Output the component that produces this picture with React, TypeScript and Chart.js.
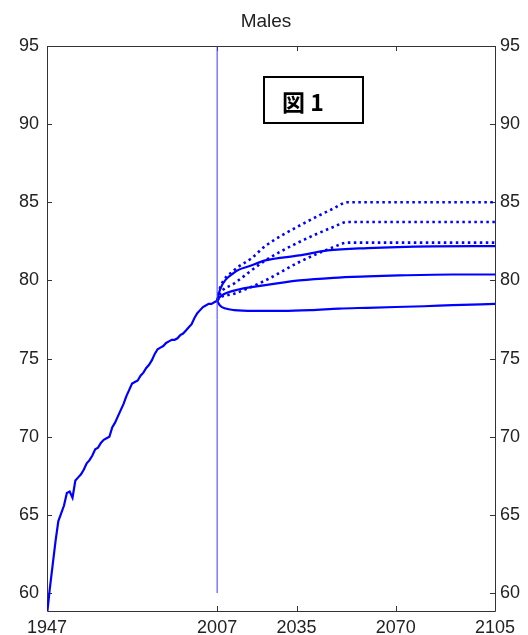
import React, { useEffect, useRef } from "react";
import { Chart, registerables } from "chart.js";
Chart.register(...registerables);

const histYears = [
  1947, 1948, 1949, 1950, 1951, 1952, 1953, 1954, 1955, 1956, 1957, 1958, 1959, 1960,
  1961, 1962, 1963, 1964, 1965, 1966, 1967, 1968, 1969, 1970, 1971, 1972, 1973, 1974,
  1975, 1976, 1977, 1978, 1979, 1980, 1981, 1982, 1983, 1984, 1985, 1986, 1987, 1988,
  1989, 1990, 1991, 1992, 1993, 1994, 1995, 1996, 1997, 1998, 1999, 2000, 2001, 2002,
  2003, 2004, 2005, 2006, 2007,
];
const histValues = [
  58.6, 60.3, 61.8, 63.3, 64.6, 65.1, 65.6, 66.4, 66.5, 66.1, 67.2, 67.4, 67.6, 67.9,
  68.3, 68.5, 68.8, 69.2, 69.3, 69.6, 69.8, 69.9, 70.0, 70.6, 70.9, 71.3, 71.7, 72.1,
  72.6, 73.0, 73.4, 73.5, 73.6, 73.9, 74.1, 74.4, 74.6, 74.9, 75.3, 75.6, 75.7, 75.8,
  76.0, 76.1, 76.2, 76.2, 76.3, 76.5, 76.6, 76.8, 77.0, 77.2, 77.6, 77.9, 78.1, 78.3,
  78.4, 78.5, 78.5, 78.6, 78.7,
];

const solidLowYears = [2007, 2008, 2010, 2013, 2020, 2030, 2040, 2050, 2060, 2070, 2080, 2090, 2105];
const solidLowValues = [78.7, 78.4, 78.2, 78.1, 78.05, 78.05, 78.1, 78.2, 78.25, 78.3, 78.35, 78.42, 78.5];
const solidMidYears = [2007, 2008, 2013, 2024, 2036, 2048, 2060, 2071, 2090, 2105];
const solidMidValues = [78.7, 78.95, 79.35, 79.7, 80.0, 80.17, 80.26, 80.32, 80.38, 80.38];
const solidHighYears = [2007, 2008, 2013, 2019, 2024, 2036, 2046, 2060, 2083, 2105];
const solidHighValues = [78.7, 79.4, 80.5, 80.95, 81.28, 81.6, 81.92, 82.07, 82.18, 82.2];

const dotTopYears = [2007, 2008, 2013, 2019, 2024, 2036, 2048, 2053, 2105];
const dotTopValues = [78.7, 79.5, 80.65, 81.4, 82.2, 83.5, 84.6, 85.0, 85.0];
const dotMidYears = [2007, 2008, 2013, 2024, 2036, 2048, 2053, 2105];
const dotMidValues = [78.7, 79.15, 79.8, 81.28, 82.46, 83.42, 83.74, 83.74];
const dotLowYears = [2007, 2008, 2013, 2024, 2036, 2048, 2053, 2105];
const dotLowValues = [78.7, 78.9, 79.15, 80.0, 81.18, 82.13, 82.42, 82.42];

const baseYearLineYears = [2007, 2007];
const baseYearLineValues = [60, 95];

const xTicks = [1947, 2007, 2035, 2070, 2105];
const yTicks = [60, 65, 70, 75, 80, 85, 90, 95];
const titleText = "Males";
const figLabel = "図 1";

const pts = (xs: number[], ys: number[]) => xs.map((x, i) => ({ x, y: ys[i] }));

const BLUE = "#0000ff";
const FONT = "'Liberation Sans', Arial, sans-serif";

const framePlugin = {
  id: "frame",
  beforeDatasetsDraw(chart: any) {
    const { ctx, chartArea } = chart;
    const { left, right, top, bottom } = chartArea;
    const xs = chart.scales.x;
    const ys = chart.scales.y;
    ctx.save();
    ctx.strokeStyle = "#333";
    ctx.lineWidth = 1;
    ctx.beginPath();
    ctx.rect(Math.round(left) + 0.5, Math.round(top) + 0.5, Math.round(right - left), Math.round(bottom - top));
    ctx.stroke();
    const tl = 5;
    ctx.beginPath();
    xTicks.forEach((v) => {
      const px = Math.round(xs.getPixelForValue(v)) + 0.5;
      ctx.moveTo(px, bottom);
      ctx.lineTo(px, bottom - tl);
      ctx.moveTo(px, top);
      ctx.lineTo(px, top + tl);
    });
    yTicks.forEach((v) => {
      const py = Math.round(ys.getPixelForValue(v)) + 0.5;
      ctx.moveTo(left, py);
      ctx.lineTo(left + tl, py);
      ctx.moveTo(right, py);
      ctx.lineTo(right - tl, py);
    });
    ctx.stroke();
    ctx.restore();
  },
  afterDraw(chart: any) {
    const { ctx } = chart;
    ctx.save();
    ctx.fillStyle = "#222";
    ctx.font = `19px ${FONT}`;
    ctx.textAlign = "center";
    ctx.textBaseline = "middle";
    ctx.fillText(titleText, 266, 22);
    // figure label box
    ctx.fillStyle = "#fff";
    ctx.fillRect(264, 77, 99, 46);
    ctx.strokeStyle = "#000";
    ctx.lineWidth = 2;
    ctx.strokeRect(264, 77, 99, 46);
    ctx.fillStyle = "#000";
    ctx.font = `bold 23px 'Noto Sans CJK JP', ${FONT}`;
    ctx.textAlign = "left";
    ctx.textBaseline = "middle";
    ctx.fillText(figLabel, 282, 102);
    ctx.restore();
  },
};

export default function App() {
  const ref = useRef<HTMLCanvasElement | null>(null);
  useEffect(() => {
    if (!ref.current) return;
    const solid = (data: any) => ({
      data,
      borderColor: BLUE,
      borderWidth: 2.2,
      pointRadius: 0,
      cubicInterpolationMode: "monotone" as const,
    });
    const dotted = (data: any) => ({
      data,
      borderColor: BLUE,
      borderWidth: 2.6,
      borderDash: [2.5, 3.5],
      pointRadius: 0,
      cubicInterpolationMode: "monotone" as const,
    });
    const tickFont = { family: FONT, size: 18 };
    const chart = new Chart(ref.current, {
      type: "line",
      data: {
        datasets: [
          { data: pts(baseYearLineYears, baseYearLineValues), borderColor: "#3a3aff", borderWidth: 1, pointRadius: 0 },
          { data: pts(histYears, histValues), borderColor: BLUE, borderWidth: 2.2, pointRadius: 0 },
          solid(pts(solidLowYears, solidLowValues)),
          solid(pts(solidMidYears, solidMidValues)),
          solid(pts(solidHighYears, solidHighValues)),
          dotted(pts(dotTopYears, dotTopValues)),
          dotted(pts(dotMidYears, dotMidValues)),
          dotted(pts(dotLowYears, dotLowValues)),
        ],
      },
      options: {
        animation: false,
        responsive: false,
        layout: { padding: { top: 46, left: 0, right: 0, bottom: 0 } },
        plugins: { legend: { display: false }, tooltip: { enabled: false }, title: { display: false } },
        scales: {
          x: {
            type: "linear",
            min: 1947,
            max: 2105,
            afterBuildTicks: (s: any) => {
              s.ticks = xTicks.map((v) => ({ value: v }));
            },
            afterFit: (s: any) => {
              s.height = 24;
            },
            grid: { display: false, drawTicks: false },
            border: { display: false },
            ticks: {
              autoSkip: false,
              maxRotation: 0,
              minRotation: 0,
              padding: 6,
              color: "#222",
              font: tickFont,
              callback: (v: any) => String(v),
            },
          },
          y: {
            type: "linear",
            position: "left",
            min: 58.85,
            max: 95,
            afterBuildTicks: (s: any) => {
              s.ticks = yTicks.map((v) => ({ value: v }));
            },
            afterFit: (s: any) => {
              s.width = 47;
            },
            grid: { display: false, drawTicks: false },
            border: { display: false },
            ticks: { padding: 8, color: "#222", font: tickFont, callback: (v: any) => String(v) },
          },
          y2: {
            type: "linear",
            position: "right",
            min: 58.85,
            max: 95,
            afterBuildTicks: (s: any) => {
              s.ticks = yTicks.map((v) => ({ value: v }));
            },
            afterFit: (s: any) => {
              s.width = 33;
            },
            grid: { display: false, drawTicks: false },
            border: { display: false },
            ticks: { padding: 5, color: "#222", font: tickFont, callback: (v: any) => String(v) },
          },
        },
      },
      plugins: [framePlugin],
    });
    return () => chart.destroy();
  }, []);
  return (
    <div style={{ position: "absolute", left: 0, top: 0, width: 528, height: 635, background: "#fff" }}>
      <canvas ref={ref} width={528} height={635} />
    </div>
  );
}
